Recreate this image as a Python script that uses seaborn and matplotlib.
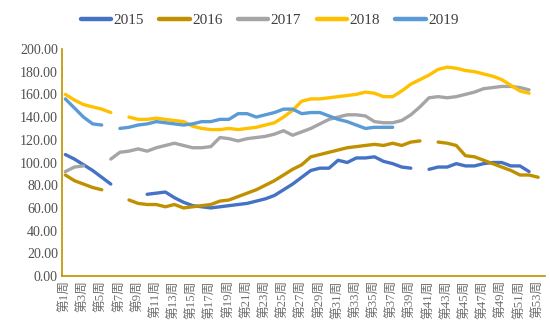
import numpy as np
import pandas as pd
import matplotlib
matplotlib.use("Agg")
import matplotlib.pyplot as plt
import seaborn as sns

nan = np.nan
weeks = list(range(1, 54))
week_labels = [f"第{w}周" for w in weeks]

y2015 = [107, 103, 98, 93, 87, 81, nan, nan, nan, 72, 73, 74, 69, 65, 62, 61, 60, 61, 62, 63,
         64, 66, 68, 71, 76, 81, 87, 93, 95, 95, 102, 100, 104, 104, 105, 101, 99, 96, 95, nan,
         94, 96, 96, 99, 97, 97, 99, 100, 100, 97, 97, 92, nan]
y2016 = [89, 84, 81, 78, 76, nan, nan, 67, 64, 63, 63, 61, 63, 60, 61, 62, 63, 66, 67, 70,
         73, 76, 80, 84, 89, 94, 98, 105, 107, 109, 111, 113, 114, 115, 116, 115, 117, 115, 118, 119,
         nan, 118, 117, 115, 106, 105, 102, 99, 96, 93, 89, 89, 87]
y2017 = [92, 96, 97, nan, nan, 103, 109, 110, 112, 110, 113, 115, 117, 115, 113, 113, 114, 122, 121, 119,
         121, 122, 123, 125, 128, 124, 127, 130, 134, 138, 140, 142, 142, 141, 136, 135, 135, 137, 142, 149,
         157, 158, 157, 158, 160, 162, 165, 166, 167, 167, 166, 164, nan]
y2018 = [160, 155, 151, 149, 147, 144, nan, 140, 138, 138, 139, 138, 137, 136, 132, 130, 129, 129, 130, 129,
         130, 131, 133, 135, 140, 146, 154, 156, 156, 157, 158, 159, 160, 162, 161, 158, 158, 163, 169, 173,
         177, 182, 184, 183, 181, 180, 178, 176, 173, 168, 163, 161, nan]
y2019 = [156, 148, 140, 134, 133, nan, 130, 131, 133, 134, 136, 135, 134, 133, 134, 136, 136, 138, 138, 143,
         143, 140, 142, 144, 147, 147, 143, 144, 144, 141, 138, 136, 133, 130, 131, 131, 131, nan, nan, nan,
         nan, nan, nan, nan, nan, nan, nan, nan, nan, nan, nan, nan, nan]

years = ["2015", "2016", "2017", "2018", "2019"]
series = [y2015, y2016, y2017, y2018, y2019]
colors = ["#4472C4", "#BF9000", "#A5A5A5", "#FFC000", "#5B9BD5"]

rows = []
for yr, vals in zip(years, series):
    seg = 0
    prev_nan = True
    for w, v in zip(weeks, vals):
        if np.isnan(v):
            prev_nan = True
            continue
        if prev_nan:
            seg += 1
            prev_nan = False
        rows.append({"week": w, "value": v, "year": yr, "seg": f"{yr}-{seg}"})
df = pd.DataFrame(rows)

sns.set_style("white")
plt.rcParams["font.family"] = ["Liberation Serif", "Noto Sans CJK SC", "DejaVu Sans"]

fig = plt.figure(figsize=(5.5, 3.33), dpi=100)
ax = fig.add_axes([0.113, 0.171, 0.877, 0.682])

sns.lineplot(data=df, x="week", y="value", hue="year", units="seg", estimator=None,
             palette=dict(zip(years, colors)), hue_order=years, linewidth=2.4,
             sort=True, ax=ax, legend=True)

ax.set_xlim(0.65, 53.7)
ax.set_ylim(0, 200)
ax.set_yticks(np.arange(0, 201, 20))
ax.set_yticklabels([f"{v:.2f}" for v in np.arange(0, 201, 20)], fontsize=10, color="#505050")
ax.set_xticks(weeks[::2])
ax.set_xticklabels(week_labels[::2], rotation=90, fontsize=9.2, color="#707070")
ax.tick_params(axis="both", length=0, pad=3)
ax.set_xlabel("")
ax.set_ylabel("")
for s in ["top", "right"]:
    ax.spines[s].set_visible(False)
for s in ["left", "bottom"]:
    ax.spines[s].set_color("#BF9000")
    ax.spines[s].set_linewidth(1.2)
ax.grid(False)

handles, labels = ax.get_legend_handles_labels()
for h in handles:
    h.set_linewidth(3.2)
ax.legend(handles, labels, loc="center", bbox_to_anchor=(0.43, 1.125), ncol=5,
          frameon=False, fontsize=11, handlelength=2.0, handletextpad=0.15, columnspacing=1.0,
          labelcolor="#404040")

fig.savefig("out.png", dpi=100)
